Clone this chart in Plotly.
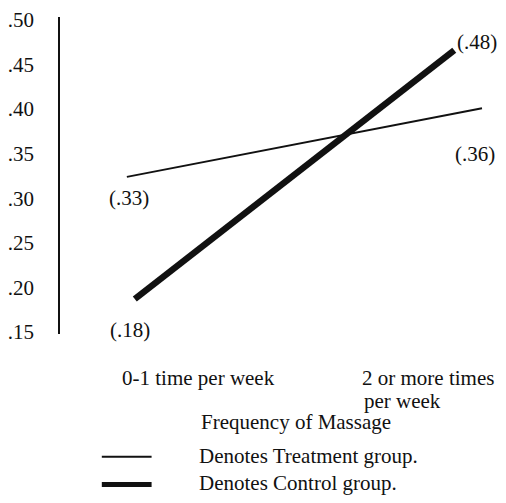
import plotly.graph_objects as go

# ---- data ----
category_lines = [["0-1 time per week"], ["2 or more times", "per week"]]
category_pos = [0.315, 0.850]

treatment_x = [0.152, 0.959]
treatment_y = [0.324, 0.401]
treatment_labels = ["(.33)", "(.36)"]

control_x = [0.170, 0.896]
control_y = [0.187, 0.466]
control_labels = ["(.18)", "(.48)"]

y_ticks = [0.15, 0.20, 0.25, 0.30, 0.35, 0.40, 0.45, 0.50]
y_ticktext = [".15", ".20", ".25", ".30", ".35", ".40", ".45", ".50"]

x_title = "Frequency of Massage"
legend_texts = ["Denotes Treatment group.", "Denotes Control group."]

FONT = "Liberation Serif, Times New Roman, serif"
INK = "#111111"
FS = 21

# page body has an 8px default margin; figure geometry compensates for it
PLOT_H = 320.0
PLOT_W = 448.0


def py(page_y):
    """page pixel (plot bottom at 334) -> paper y"""
    return (334 - page_y) / PLOT_H


def px(page_x):
    return (page_x - 58) / PLOT_W


fig = go.Figure()
fig.add_trace(go.Scatter(x=treatment_x, y=treatment_y, mode="lines",
                         line=dict(color=INK, width=2), name="Treatment",
                         showlegend=False, hoverinfo="skip", cliponaxis=False))
fig.add_trace(go.Scatter(x=control_x, y=control_y, mode="lines",
                         line=dict(color=INK, width=6.5), name="Control",
                         showlegend=False, hoverinfo="skip", cliponaxis=False))

txt = dict(family=FONT, size=FS, color=INK)
ann = []
# value labels
ann.append(dict(x=treatment_x[0], y=treatment_y[0], text=treatment_labels[0],
                xshift=2, yshift=-21, xanchor="center"))
ann.append(dict(x=treatment_x[1], y=treatment_y[1], text=treatment_labels[1],
                xshift=-7, yshift=-46, xanchor="center"))
ann.append(dict(x=control_x[0], y=control_y[0], text=control_labels[0],
                xshift=-5, yshift=-31, xanchor="center"))
ann.append(dict(x=control_x[1], y=control_y[1], text=control_labels[1],
                xshift=1, yshift=8, xanchor="left"))
for a in ann:
    a.update(xref="x", yref="y", showarrow=False, yanchor="middle", font=txt)

# category labels
ann.append(dict(x=category_pos[0], y=py(378), xref="x", yref="paper",
                text=category_lines[0][0], showarrow=False,
                xanchor="center", yanchor="middle", font=txt))
ann.append(dict(x=category_pos[1], y=py(378), xref="x", yref="paper",
                text=category_lines[1][0], showarrow=False,
                xanchor="center", yanchor="middle", xshift=-6, font=txt))
ann.append(dict(x=px(361), y=py(402), xref="paper", yref="paper",
                text=category_lines[1][1], showarrow=False,
                xanchor="left", yanchor="middle", font=txt))

# axis title
ann.append(dict(x=px(295), y=py(423), xref="paper", yref="paper",
                text=x_title, showarrow=False,
                xanchor="center", yanchor="middle", font=txt))
# legend text
ann.append(dict(x=px(196), y=py(457), xref="paper", yref="paper",
                xanchor="left", yanchor="middle", text=legend_texts[0],
                showarrow=False, font=txt))
ann.append(dict(x=px(196), y=py(484), xref="paper", yref="paper",
                xanchor="left", yanchor="middle", text=legend_texts[1],
                showarrow=False, font=txt))

shapes = [
    dict(type="line", xref="paper", yref="paper",
         x0=px(100), x1=px(150), y0=py(458), y1=py(458),
         line=dict(color=INK, width=2)),
    dict(type="line", xref="paper", yref="paper",
         x0=px(100), x1=px(150), y0=py(486), y1=py(486),
         line=dict(color=INK, width=5)),
]

fig.update_layout(
    width=498, height=487,
    margin=dict(l=50, r=0, t=6, b=161),
    paper_bgcolor="white", plot_bgcolor="white",
    annotations=ann, shapes=shapes,
    font=txt,
    xaxis=dict(range=[0, PLOT_W / 442.0], showticklabels=False,
               showline=False, showgrid=False, zeroline=False, ticks="",
               fixedrange=True),
    yaxis=dict(range=[0.1478, 0.5033], tickvals=y_ticks, ticktext=y_ticktext,
               showline=True, linecolor=INK, linewidth=1.5,
               showgrid=False, zeroline=False, ticks="",
               ticklabelstandoff=20, ticklabeloverflow="allow",
               fixedrange=True),
)

fig.write_html("out.html")
